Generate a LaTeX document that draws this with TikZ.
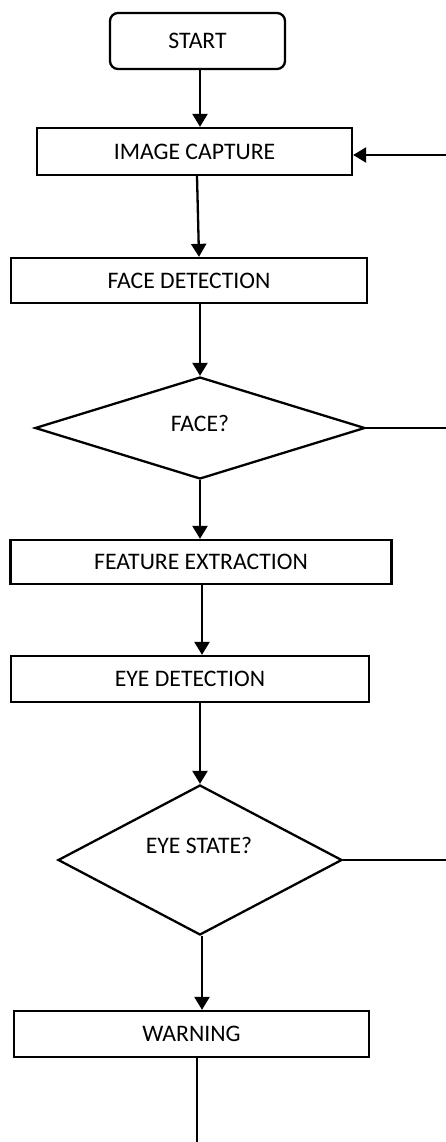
\documentclass[tikz,border=0pt]{standalone}
\usepackage{fontspec}
\setmainfont{Carlito}
\usetikzlibrary{arrows.meta,shapes.geometric}
\tikzset{
  proc/.style={draw, line width=2.3pt, rectangle, inner sep=0pt, font=\fontsize{23.7}{28}\selectfont},
  term/.style={proc, rounded corners=8pt},
  decision/.style={draw, line width=2.3pt, diamond, inner sep=0pt},
  lbl/.style={inner sep=0pt, font=\fontsize{23.7}{28}\selectfont},
  link/.style={line width=2.3pt},
  arr/.style={link, -{Triangle[width=15pt,length=13pt]}}
}
\begin{document}
\begin{tikzpicture}[x=1pt,y=-1pt]
\useasboundingbox (0,0) rectangle (446,1142);
% nodes
\node[term, minimum width=175pt, minimum height=56pt] (start) at (197.5,41) {START};
\node[proc, minimum width=315pt, minimum height=47pt] (cap) at (194.5,151.5) {IMAGE CAPTURE};
\node[proc, minimum width=356pt, minimum height=45pt] (fdet) at (189,280.5) {FACE DETECTION};
\node[decision, minimum width=330pt, minimum height=102pt] (face) at (200,428) {};
\node[lbl] (facet) at (200,423) {FACE?};
\node[proc, minimum width=381pt, minimum height=44pt] (feat) at (201,562) {FEATURE EXTRACTION};
\node[proc, minimum width=358pt, minimum height=46pt] (eyed) at (190,679) {EYE DETECTION};
\node[decision, minimum width=284pt, minimum height=150pt] (eye) at (200,860) {};
\node[lbl] (eyet) at (199,845) {EYE STATE?};
\node[proc, minimum width=355pt, minimum height=46pt] (warn) at (191.5,1034) {WARNING};
% free ends at the picture edge
\coordinate (back) at (446,155);
\coordinate (faceout) at (446,428);
\coordinate (eyeout) at (446,860);
\coordinate (endpt) at (197,1142);
% connectors
\draw[arr] ([xshift=2.5pt]start.south) -- ([xshift=2.5pt]start.south |- cap.north);
\draw[arr] (back) -- (cap.east |- back);
\draw[arr] ([xshift=2.5pt]cap.south) -- ([xshift=10pt]fdet.north);
\draw[arr] (face.north |- fdet.south) -- (face.north);
\draw[link] (face.east) -- (faceout);
\draw[arr] (face.south) -- (face.south |- feat.north);
\draw[arr] ([xshift=1pt]feat.south) -- ([xshift=1pt]feat.south |- eyed.north);
\draw[arr] (eye.north |- eyed.south) -- (eye.north);
\draw[link] (eye.east) -- (eyeout);
\draw[arr] ([xshift=2pt]eye.south) -- ([xshift=2pt]eye.south |- warn.north);
\draw[link] ([xshift=5.5pt]warn.south) -- (endpt);
\end{tikzpicture}
\end{document}
